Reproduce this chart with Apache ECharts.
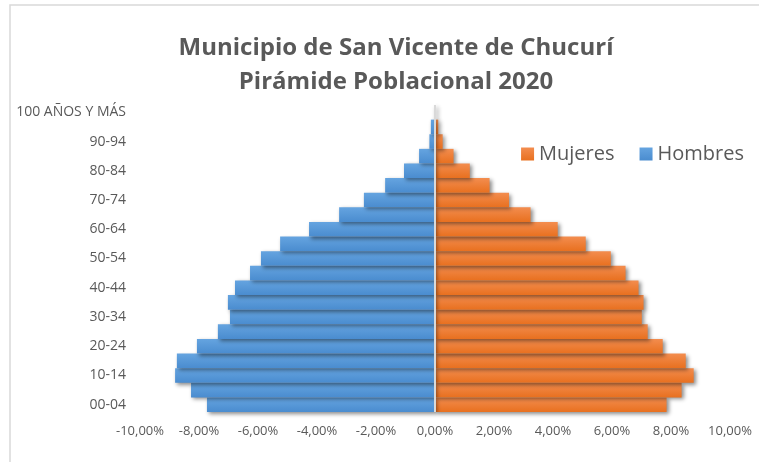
<!DOCTYPE html>
<html>
<head>
<meta charset="utf-8">
<script src="https://cdn.jsdelivr.net/npm/echarts@6/dist/echarts.min.js"></script>
<style>
html, body { margin: 0; padding: 0; background: #fff; }
#main { width: 759px; height: 462px; }
</style>
</head>
<body>
<div id="main"></div>
<script>
// grupos de edad, de abajo hacia arriba
var edades = ['00-04', '05-09', '10-14', '15-19', '20-24', '25-29', '30-34', '35-39', '40-44', '45-49',
    '50-54', '55-59', '60-64', '65-69', '70-74', '75-79', '80-84', '85-89', '90-94', '95-99', '100 AÑOS Y MÁS'];
// porcentajes
var mujeres = [7.85, 8.36, 8.77, 8.50, 7.72, 7.21, 7.01, 7.07, 6.90, 6.46,
    5.96, 5.11, 4.16, 3.24, 2.51, 1.85, 1.18, 0.63, 0.26, 0.11, 0.03];
var hombres = [-7.73, -8.27, -8.81, -8.75, -8.07, -7.36, -6.95, -7.02, -6.78, -6.27,
    -5.90, -5.25, -4.27, -3.25, -2.41, -1.69, -1.05, -0.54, -0.19, -0.14, -0.03];

var gris = '#595959';

function grad(top, bottom) {
    return new echarts.graphic.LinearGradient(0, 0, 0, 1, [
        {offset: 0, color: top},
        {offset: 1, color: bottom}
    ]);
}

var myChart = echarts.init(document.getElementById('main'));
var option = {
    animation: false,
    title: {
        text: 'Municipio de San Vicente de Chucurí\nPirámide Poblacional 2020',
        left: 391,
        textAlign: 'center',
        top: 26,
        textStyle: {
            color: gris,
            fontFamily: 'Open Sans',
            fontSize: 24,
            fontWeight: 'bold',
            lineHeight: 34
        }
    },
    legend: {
        right: 10,
        top: 139,
        itemWidth: 13,
        itemHeight: 13,
        itemGap: 25,
        icon: 'rect',
        textStyle: {
            color: gris,
            fontFamily: 'Open Sans',
            fontSize: 20
        },
        data: ['Mujeres', 'Hombres']
    },
    grid: {
        left: 140,
        right: 29,
        top: 105,
        bottom: 50
    },
    xAxis: {
        type: 'value',
        min: -10,
        max: 10,
        interval: 2,
        splitLine: {show: false},
        axisLine: {show: false},
        axisTick: {show: false},
        axisLabel: {
            color: gris,
            fontFamily: 'Open Sans',
            fontSize: 13,
            margin: 13,
            formatter: function (v) {
                return v.toFixed(2).replace('.', ',') + '%';
            }
        }
    },
    yAxis: {
        type: 'category',
        data: edades,
        axisLine: {show: false},
        axisTick: {show: false},
        axisLabel: {
            color: gris,
            fontFamily: 'Open Sans',
            fontSize: 14,
            margin: 14,
            interval: 1
        }
    },
    series: [
        {
            name: 'Mujeres',
            type: 'bar',
            data: mujeres,
            barCategoryGap: 0,
            barGap: '-100%',
            itemStyle: {
                color: grad('#f38d4f', '#e8701f'),
                shadowColor: 'rgba(0,0,0,0.45)',
                shadowBlur: 4,
                shadowOffsetX: 2,
                shadowOffsetY: 2
            }
        },
        {
            name: 'Hombres',
            type: 'bar',
            data: hombres,
            barCategoryGap: 0,
            barGap: '-100%',
            itemStyle: {
                color: grad('#65a4e0', '#4a8ccf'),
                shadowColor: 'rgba(0,0,0,0.45)',
                shadowBlur: 4,
                shadowOffsetX: 2,
                shadowOffsetY: 2
            },
            markLine: {
                silent: true,
                symbol: 'none',
                label: {show: false},
                lineStyle: {color: '#d9d9d9', width: 2, type: 'solid'},
                data: [{xAxis: 0}]
            }
        }
    ],
    graphic: [{
        type: 'rect',
        shape: {x: 10, y: 5, width: 780, height: 480},
        style: {fill: 'none', stroke: '#d9d9d9', lineWidth: 1.5},
        silent: true
    }]
};
myChart.setOption(option);
</script>
</body>
</html>
